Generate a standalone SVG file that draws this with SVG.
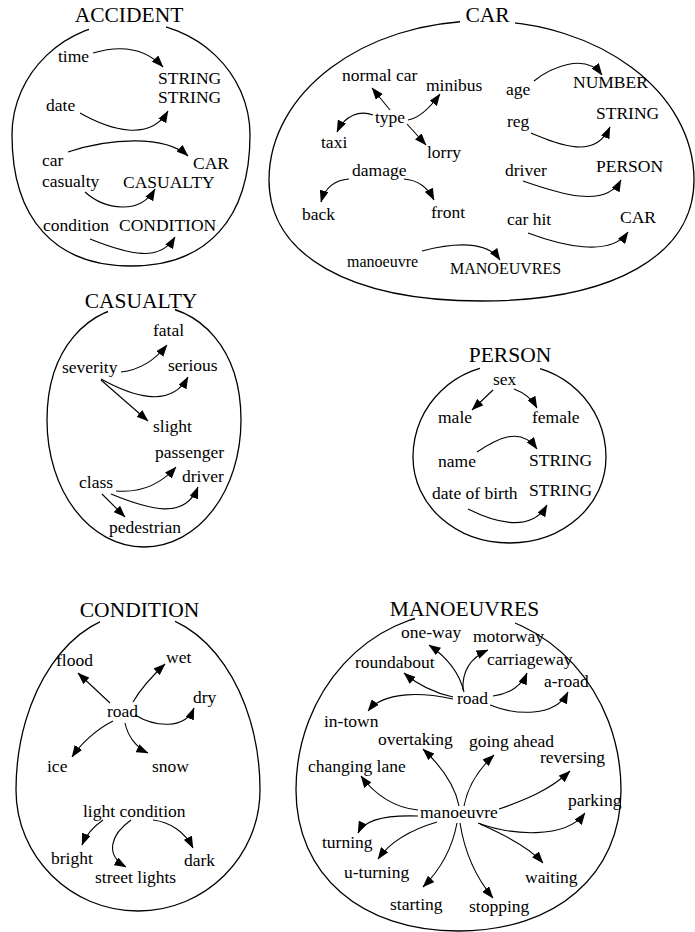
<svg xmlns="http://www.w3.org/2000/svg" width="695" height="932" viewBox="0 0 695 932">
<style>
text{font-family:"Liberation Serif","Times New Roman",serif;fill:#000}
.t{font-size:21.5px;text-anchor:middle}
.l{font-size:17.5px}
.s{font-size:16px}
.shape{fill:none;stroke:#000;stroke-width:1.3}
.mask{fill:#fff;stroke:none}
.c{fill:none;stroke:#000;stroke-width:1.1;marker-end:url(#ah)}
</style>
<defs>
<marker id="ah" markerUnits="userSpaceOnUse" markerWidth="12" markerHeight="9" viewBox="0 0 12 9" refX="11.5" refY="4.5" orient="auto">
<path d="M0,0 L12,4.5 L0,9 Z" fill="#000"/>
</marker>
</defs>
<rect width="695" height="932" fill="#fff"/>

<g id="accident">
<path class="shape" d="M131,22 C196.7,22 250,72.6 250,135 C250,218.8 207.2,266 131,266 C54.8,266 12,218.8 12,135 C12,72.6 65.3,22 131,22Z"/>
<rect class="mask" x="89" y="4" width="77" height="29"/>
<text class="t" x="129" y="22">ACCIDENT</text>
<g id="acc-time"><text class="l" x="58" y="62">time</text></g>
<g id="acc-string1"><text class="l" x="158" y="84">STRING</text></g>
<g id="acc-string2"><text class="l" x="158" y="103">STRING</text></g>
<g id="acc-date"><text class="l" x="46" y="111">date</text></g>
<g id="acc-car"><text class="l" x="42" y="166">car</text></g>
<g id="acc-CAR"><text class="l" x="193" y="169">CAR</text></g>
<g id="acc-casualty"><text class="l" x="42" y="187">casualty</text></g>
<g id="acc-CASUALTY"><text class="l" x="123" y="188">CASUALTY</text></g>
<g id="acc-condition"><text class="l" x="43" y="231">condition</text></g>
<g id="acc-CONDITION"><text class="l" x="119" y="231">CONDITION</text></g>
</g>

<g id="car">
<path class="shape" d="M481.5,21 C598.8,21 694,92.2 694,180 C694,255 613.3,301 481.5,301 C349.7,301 269,255 269,180 C269,92.2 364.2,21 481.5,21Z"/>
<rect class="mask" x="460" y="4" width="55" height="24"/>
<text class="t" x="487.5" y="22">CAR</text>
<g id="car-normalcar"><text class="l" x="342" y="81">normal car</text></g>
<g id="car-minibus"><text class="l" x="426" y="91">minibus</text></g>
<g id="car-type"><text class="l" x="375" y="123">type</text></g>
<g id="car-taxi"><text class="l" x="321" y="148">taxi</text></g>
<g id="car-lorry"><text class="l" x="427" y="158">lorry</text></g>
<g id="car-damage"><text class="l" x="352" y="176">damage</text></g>
<g id="car-back"><text class="l" x="302" y="220">back</text></g>
<g id="car-front"><text class="l" x="431" y="218">front</text></g>
<g id="car-manoeuvre"><text class="s" x="347" y="267">manoeuvre</text></g>
<g id="car-MANOEUVRES"><text class="s" x="450" y="274">MANOEUVRES</text></g>
<g id="car-age"><text class="l" x="506" y="95">age</text></g>
<g id="car-NUMBER"><text class="l" x="573" y="88">NUMBER</text></g>
<g id="car-reg"><text class="l" x="507" y="127">reg</text></g>
<g id="car-STRING"><text class="l" x="596" y="119">STRING</text></g>
<g id="car-driver"><text class="l" x="505" y="176">driver</text></g>
<g id="car-PERSON"><text class="l" x="596" y="172">PERSON</text></g>
<g id="car-carhit"><text class="l" x="507" y="225">car hit</text></g>
<g id="car-CAR"><text class="l" x="620" y="223">CAR</text></g>
</g>

<g id="casualty">
<path class="shape" d="M144,305 C202.2,305 241,351 241,420 C241,491.1 198.3,547 144,547 C89.7,547 47,491.1 47,420 C47,351 85.8,305 144,305Z"/>
<rect class="mask" x="108" y="290" width="67" height="27"/>
<text class="t" x="141" y="308">CASUALTY</text>
<g id="cas-fatal"><text class="l" x="153" y="336">fatal</text></g>
<g id="cas-severity"><text class="l" x="62" y="373">severity</text></g>
<g id="cas-serious"><text class="l" x="168" y="371">serious</text></g>
<g id="cas-slight"><text class="l" x="153" y="432">slight</text></g>
<g id="cas-passenger"><text class="l" x="155" y="458">passenger</text></g>
<g id="cas-driver"><text class="l" x="182" y="482">driver</text></g>
<g id="cas-class"><text class="l" x="79" y="488">class</text></g>
<g id="cas-pedestrian"><text class="l" x="109" y="533">pedestrian</text></g>
</g>

<g id="person">
<path class="shape" d="M509.5,364 C563.5,364 606,404.9 606,457 C606,505.2 563.5,543 509.5,543 C455.5,543 413,505.2 413,457 C413,404.9 455.5,364 509.5,364Z"/>
<rect class="mask" x="480" y="346" width="60" height="27"/>
<text class="t" x="510" y="362">PERSON</text>
<g id="per-sex"><text class="l" x="493" y="385">sex</text></g>
<g id="per-male"><text class="l" x="438" y="423">male</text></g>
<g id="per-female"><text class="l" x="532" y="423">female</text></g>
<g id="per-name"><text class="l" x="438" y="467">name</text></g>
<g id="per-string1"><text class="l" x="529" y="466">STRING</text></g>
<g id="per-dob"><text class="l" x="432" y="499">date of birth</text></g>
<g id="per-string2"><text class="l" x="529" y="496">STRING</text></g>
</g>

<g id="condition">
<path class="shape" d="M138,613 C205.3,613 260,692.3 260,790 C260,856.8 205.3,911 138,911 C70.7,911 16,856.8 16,790 C16,692.3 70.7,613 138,613Z"/>
<rect class="mask" x="100" y="598" width="75" height="29"/>
<text class="t" x="139.5" y="617">CONDITION</text>
<g id="con-flood"><text class="l" x="56" y="666">flood</text></g>
<g id="con-wet"><text class="l" x="166" y="663">wet</text></g>
<g id="con-dry"><text class="l" x="193" y="703">dry</text></g>
<g id="con-road"><text class="l" x="107" y="717">road</text></g>
<g id="con-ice"><text class="l" x="47" y="772">ice</text></g>
<g id="con-snow"><text class="l" x="152" y="772">snow</text></g>
<g id="con-light"><text class="l" x="83" y="817">light condition</text></g>
<g id="con-bright"><text class="l" x="51" y="864">bright</text></g>
<g id="con-dark"><text class="l" x="184" y="866">dark</text></g>
<g id="con-street"><text class="l" x="95" y="883">street lights</text></g>
</g>

<g id="manoeuvres">
<path class="shape" d="M458.5,612 C548.2,612 621,691.7 621,790 C621,874.6 556,931 458.5,931 C361,931 296,874.6 296,790 C296,691.7 368.8,612 458.5,612Z"/>
<rect class="mask" x="415" y="597" width="100" height="28"/>
<text class="t" x="464.5" y="616">MANOEUVRES</text>
<g id="man-oneway"><text class="l" x="401" y="638">one-way</text></g>
<g id="man-motorway"><text class="l" x="473" y="642">motorway</text></g>
<g id="man-roundabout"><text class="l" x="355" y="668">roundabout</text></g>
<g id="man-carriageway"><text class="l" x="487" y="665">carriageway</text></g>
<g id="man-aroad"><text class="l" x="544" y="687">a-road</text></g>
<g id="man-road"><text class="l" x="457" y="704">road</text></g>
<g id="man-intown"><text class="l" x="324" y="727">in-town</text></g>
<g id="man-overtaking"><text class="l" x="378" y="745">overtaking</text></g>
<g id="man-goingahead"><text class="l" x="469" y="747">going ahead</text></g>
<g id="man-reversing"><text class="l" x="540" y="763">reversing</text></g>
<g id="man-changinglane"><text class="l" x="308" y="772">changing lane</text></g>
<g id="man-parking"><text class="l" x="568" y="806">parking</text></g>
<g id="man-manoeuvre"><text class="l" x="420" y="818">manoeuvre</text></g>
<g id="man-turning"><text class="l" x="322" y="848">turning</text></g>
<g id="man-uturning"><text class="l" x="344" y="878">u-turning</text></g>
<g id="man-waiting"><text class="l" x="525" y="883">waiting</text></g>
<g id="man-starting"><text class="l" x="390" y="910">starting</text></g>
<g id="man-stopping"><text class="l" x="469" y="912">stopping</text></g>
</g>

<g id="connectors">
<path class="c" d="M93,53 C120,45 145,48 163,67"/>
<path class="c" d="M80,113 C110,130 150,142 168,111"/>
<path class="c" d="M68,152 C110,138 165,135 188,156"/>
<path class="c" d="M85,192 C105,210 140,215 155,189"/>
<path class="c" d="M90,239 C130,255 160,262 175,237"/>

<path class="c" d="M390,110 L372,88"/>
<path class="c" d="M408,120 C420,118 432,105 440,94"/>
<path class="c" d="M373,115 C360,110 345,115 337,132"/>
<path class="c" d="M407,124 L426,145"/>
<path class="c" d="M349,179 C335,180 325,188 321,202"/>
<path class="c" d="M404,179 C418,180 428,188 434,200"/>
<path class="c" d="M422,251 C445,245 485,238 500,260"/>
<path class="c" d="M534,81 C550,68 585,52 602,75"/>
<path class="c" d="M531,133 C560,145 595,160 610,127"/>
<path class="c" d="M523,181 C555,192 605,210 621,180"/>
<path class="c" d="M528,233 C560,245 610,258 628,232"/>

<path class="c" d="M121,372 C140,370 155,360 167,345"/>
<path class="c" d="M101,379 C130,395 170,410 188,377"/>
<path class="c" d="M101,380 L148,421"/>
<path class="c" d="M116,491 C140,493 160,485 176,467"/>
<path class="c" d="M111,494 C150,510 185,520 198,487"/>
<path class="c" d="M102,494 L125,517"/>

<path class="c" d="M493,390 L472,410"/>
<path class="c" d="M514,389 C525,393 532,399 537,408"/>
<path class="c" d="M477,452 C495,440 520,425 537,449"/>
<path class="c" d="M468,509 C490,520 530,535 547,505"/>

<path class="c" d="M110,703 L78,673"/>
<path class="c" d="M133,702 C140,690 150,678 165,664"/>
<path class="c" d="M135,715 C155,727 185,730 194,708"/>
<path class="c" d="M113,721 C95,730 80,745 72,757"/>
<path class="c" d="M125,723 C128,737 137,748 148,753"/>
<path class="c" d="M103,820 C93,827 86,835 82,845"/>
<path class="c" d="M131,820 C110,835 105,855 126,867"/>
<path class="c" d="M153,820 C170,822 185,832 193,848"/>

<path class="c" d="M464,692 C460,675 448,658 429,645"/>
<path class="c" d="M463,690 C462,672 470,658 488,650"/>
<path class="c" d="M453,697 C435,693 418,685 404,673"/>
<path class="c" d="M493,696 C510,694 522,685 527,673"/>
<path class="c" d="M490,705 C515,715 555,718 568,692"/>
<path class="c" d="M453,699 C425,693 385,690 368,711"/>

<path class="c" d="M459,806 C455,785 440,765 423,749"/>
<path class="c" d="M464,806 C468,785 480,768 494,755"/>
<path class="c" d="M418,810 C395,808 375,795 361,776"/>
<path class="c" d="M499,809 C525,800 550,790 570,771"/>
<path class="c" d="M478,823 C510,835 565,840 585,813"/>
<path class="c" d="M418,816 C390,815 365,818 358,833"/>
<path class="c" d="M437,822 C410,830 390,842 378,859"/>
<path class="c" d="M480,824 C505,835 530,848 543,863"/>
<path class="c" d="M457,823 C452,850 440,870 423,887"/>
<path class="c" d="M460,823 C465,855 478,880 493,898"/>
</g>
</svg>
